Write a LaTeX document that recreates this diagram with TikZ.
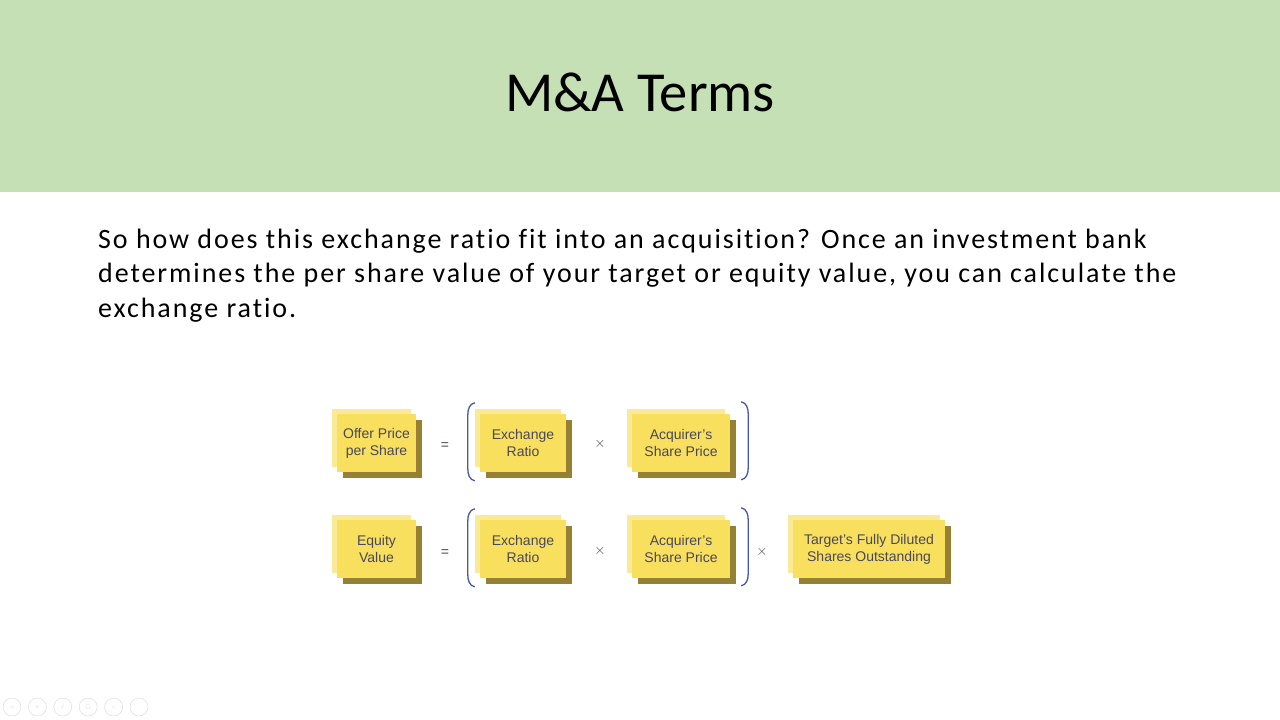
\documentclass[tikz,border=0pt]{standalone}
\usepackage{amssymb}
\usepackage{fontspec}
\setmainfont{Carlito}
\newfontfamily\boxfont{Liberation Sans}
\newfontfamily\bodyfont[LetterSpace=6.9, Ligatures={NoCommon}]{Carlito}
\usetikzlibrary{shadows}

\definecolor{headgreen}{RGB}{197,224,180}
\definecolor{boxyellow}{RGB}{249,223,94}
\definecolor{backyellow}{RGB}{250,234,150}
\definecolor{shadeolive}{RGB}{150,128,52}
\definecolor{boxtext}{RGB}{72,72,92}
\definecolor{brackblue}{RGB}{70,88,168}
\definecolor{iconline}{RGB}{215,215,215}

\begin{document}
\begin{tikzpicture}[
    x=1pt, y=-1pt,
    termbox/.style={fill=boxyellow, align=center, minimum height=58pt, inner sep=0pt,
        font=\boxfont\fontsize{14}{17}\selectfont, text=boxtext,
        copy shadow={shadow xshift=-5pt, shadow yshift=5pt, fill=backyellow, draw=none},
        copy shadow={shadow xshift=6pt, shadow yshift=-6pt, fill=shadeolive, draw=none}},
    opsign/.style={font=\boxfont\fontsize{14}{14}\selectfont, text=boxtext},
    brack/.style={draw=brackblue, line width=1.3pt},
    icon/.style={draw=iconline, circle, minimum size=18pt, inner sep=0pt}
]
\useasboundingbox (0,0) rectangle (1280,720);
\fill[white] (0,0) rectangle (1280,720);
\fill[headgreen] (0,0) rectangle (1280,192);

% title and text
\node[anchor=base, font=\fontsize{56.5}{56.5}\selectfont] (title) at (640,111) {M\&A Terms};
\node[anchor=base west, inner sep=0pt, font=\bodyfont\fontsize{28}{34.5}\selectfont, align=left] (body) at (98,317)
    {So how does this exchange ratio fit into an acquisition? Once an investment bank\\
     determines the per share value of your target or equity value, you can calculate the\\
     exchange ratio.};

% first row
\node[termbox, minimum width=79pt] (offer) at (376.5,443) {Offer Price\\per Share};
\node[opsign] (eq1) at (445,446) {=};
\node[termbox, minimum width=86pt] (exch1) at (523,443) {Exchange\\Ratio};
\node[opsign] (times1) at (600,444) {$\times$};
\node[termbox, minimum width=98pt] (acq1) at (681,443) {Acquirer’s\\Share Price};

% second row
\node[termbox, minimum width=79pt] (equity) at (376.5,549) {Equity\\Value};
\node[opsign] (eq2) at (445,553) {=};
\node[termbox, minimum width=86pt] (exch2) at (523,549) {Exchange\\Ratio};
\node[opsign] (times2) at (600,551) {$\times$};
\node[termbox, minimum width=98pt] (acq2) at (681,549) {Acquirer’s\\Share Price};
\node[opsign] (times3) at (762,552) {$\times$};
\node[termbox, minimum width=152pt] (shares) at (869,549) {Target’s Fully Diluted\\Shares Outstanding};

% brackets
\draw[brack] ([xshift=-5pt,yshift=11pt]exch1.north west) to[out=190,in=90] ++(-7,12) -- ++(0,54) to[out=-90,in=170] ++(7,12);
\draw[brack] ([xshift=11pt,yshift=12pt]acq1.north east) to[out=-10,in=90] ++(7,12) -- ++(0,54) to[out=-90,in=10] ++(-7,12);
\draw[brack] ([xshift=-5pt,yshift=11pt]exch2.north west) to[out=190,in=90] ++(-7,12) -- ++(0,54) to[out=-90,in=170] ++(7,12);
\draw[brack] ([xshift=11pt,yshift=12pt]acq2.north east) to[out=-10,in=90] ++(7,12) -- ++(0,54) to[out=-90,in=10] ++(-7,12);

% slide controls
\foreach \i/\s in {0/$\triangleleft$, 1/$\triangleright$, 2/\textbf{/}, 3/$\square$, 4/$\circ$, 5/$\cdots$}
    \node[icon, text=iconline, font=\tiny] (ctl\i) at (12+25.4*\i,707) {\s};
\end{tikzpicture}
\end{document}
